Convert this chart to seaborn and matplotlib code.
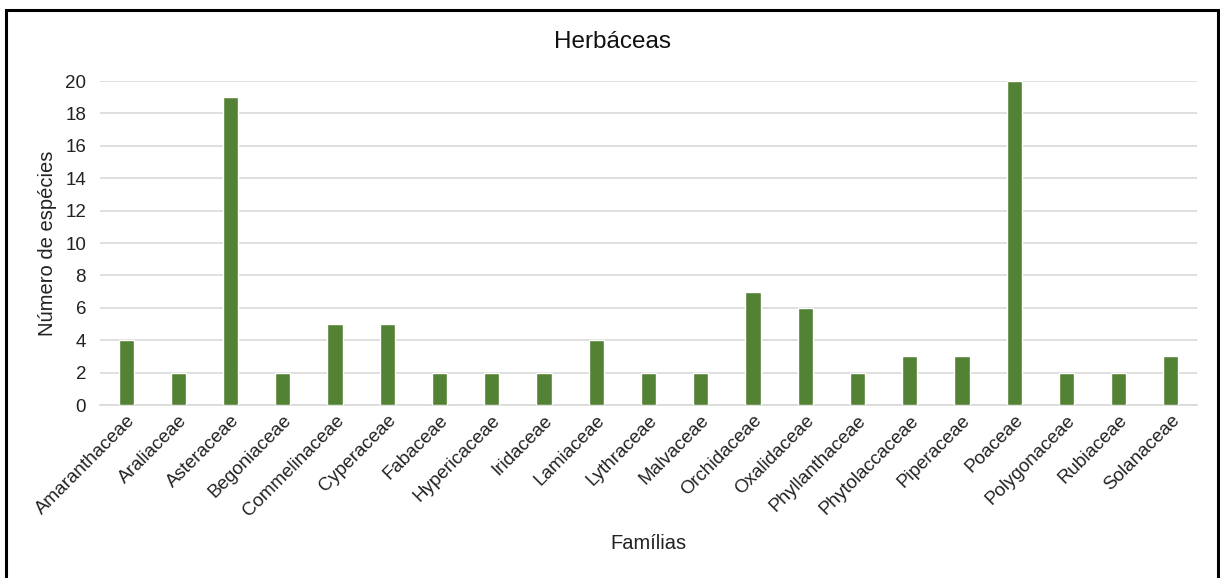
import matplotlib
matplotlib.use("Agg")
import matplotlib.pyplot as plt
import seaborn as sns
import pandas as pd
from matplotlib.patches import Rectangle

familias = ["Amaranthaceae", "Araliaceae", "Asteraceae", "Begoniaceae", "Commelinaceae",
            "Cyperaceae", "Fabaceae", "Hypericaceae", "Iridaceae", "Lamiaceae",
            "Lythraceae", "Malvaceae", "Orchidaceae", "Oxalidaceae", "Phyllanthaceae",
            "Phytolaccaceae", "Piperaceae", "Poaceae", "Polygonaceae", "Rubiaceae",
            "Solanaceae"]
especies = [4, 2, 19, 2, 5, 5, 2, 2, 2, 4, 2, 2, 7, 6, 2, 3, 3, 20, 2, 2, 3]
yticks = list(range(0, 21, 2))

sns.set_theme(style="white")
plt.rcParams["font.family"] = ["Liberation Sans", "DejaVu Sans"]

df = pd.DataFrame({"Famílias": familias, "Número de espécies": especies})

fig = plt.figure(figsize=(12.2, 5.78), dpi=100)
ax = fig.add_axes([100 / 1220, 1 - 405 / 578, 1097 / 1220, 324 / 578])

sns.barplot(data=df, x="Famílias", y="Número de espécies", color="#548235",
            saturation=1, width=0.29, ax=ax, zorder=3)

ax.set_ylim(0, 20)
ax.set_xlim(-0.5, len(familias) - 0.5)
ax.set_yticks(yticks)
ax.yaxis.grid(True, color="#d9d9d9", linewidth=1.2, zorder=0)
ax.set_axisbelow(True)
for s in ["top", "right", "left"]:
    ax.spines[s].set_visible(False)
ax.spines["bottom"].set_color("#d9d9d9")
ax.spines["bottom"].set_linewidth(1.2)
ax.tick_params(axis="both", length=0, labelsize=13.5, colors="#222222")
ax.tick_params(axis="y", pad=10)
ax.tick_params(axis="x", pad=5)
plt.setp(ax.get_xticklabels(), rotation=45, ha="right", rotation_mode="anchor")

fig.suptitle("Herbáceas", x=0.502, y=1 - 42 / 578, va="center",
             fontsize=17.5, color="#111111")
ax.set_xlabel("Famílias", fontsize=14.5, color="#222222", labelpad=10)
ax.set_ylabel("Número de espécies", fontsize=14.5, color="#222222", labelpad=6)

fig.patches.append(Rectangle((6 / 1220, -0.05), 1212 / 1220, 1.05 - 10 / 578,
                             transform=fig.transFigure, fill=False,
                             edgecolor="black", linewidth=2.2))

fig.savefig("out.png", dpi=100)
